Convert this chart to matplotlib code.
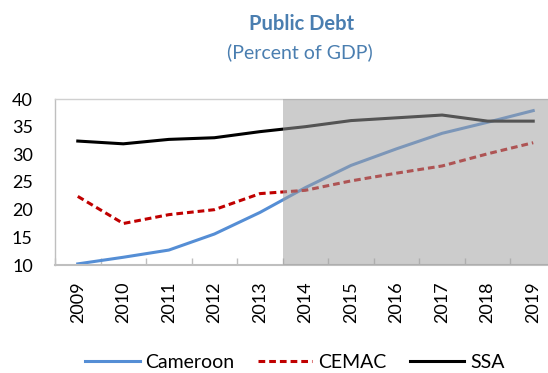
import matplotlib
matplotlib.use("Agg")
import matplotlib.pyplot as plt
from matplotlib.patches import Rectangle

years = ["2009", "2010", "2011", "2012", "2013", "2014", "2015", "2016", "2017", "2018", "2019"]
cameroon = [10.2, 11.4, 12.7, 15.6, 19.5, 24.0, 28.0, 31.0, 33.8, 35.8, 37.9]
cemac = [22.4, 17.5, 19.1, 20.0, 22.9, 23.5, 25.2, 26.6, 27.9, 30.1, 32.1]
ssa = [32.4, 31.9, 32.7, 33.0, 34.1, 35.0, 36.1, 36.6, 37.1, 36.0, 36.0]
projection_start = 4.5

plt.rcParams["font.family"] = ["Lato", "DejaVu Sans"]

W, H = 548, 373
fig = plt.figure(figsize=(W / 100, H / 100), dpi=100)
ax = fig.add_axes([55 / W, 1 - 265 / H, (556 - 55) / W, (265 - 99) / H])

x = list(range(len(years)))
ax.plot(x, cameroon, color="#558ED5", lw=2.2, label="Cameroon", zorder=2)
ax.plot(x, cemac, color="#C00000", lw=2.2, ls=(0, (2.2, 1.3)), label="CEMAC", zorder=2)
ax.plot(x, ssa, color="#000000", lw=2.2, label="SSA", zorder=2)

# shaded projection period drawn over the lines
ax.add_patch(Rectangle((projection_start, 10), len(years) - 0.5 - projection_start, 30,
                       facecolor="#9F9F9F", alpha=0.53, edgecolor="none", zorder=3))

ax.set_xlim(-0.5, len(years) - 0.5)
ax.set_ylim(10, 40)
ax.set_yticks([10, 15, 20, 25, 30, 35, 40])
ax.set_xticks(x)
ax.set_xticklabels(years, rotation=90, fontsize=13)
ax.set_xticks([i + 0.5 for i in range(-1, len(years))], minor=True)
ax.tick_params(axis="x", which="major", length=0, pad=12)
ax.tick_params(axis="x", which="minor", length=5, direction="in", color="#BFBFBF", width=1)
ax.tick_params(axis="y", length=0, labelsize=13, pad=16)
for s in ax.spines.values():
    s.set_color("#D0D0D0")
    s.set_linewidth(1)
ax.spines["bottom"].set_color("#BFBFBF")
ax.spines["bottom"].set_linewidth(1.5)
ax.spines["left"].set_color("#BFBFBF")

fig.text(301.5 / W, 1 - 24 / H, "Public Debt", ha="center", va="center",
         fontsize=14.5, fontweight="bold", color="#4A7EB0")
fig.text(299.5 / W, 1 - 52 / H, "(Percent of GDP)", ha="center", va="center",
         fontsize=14, color="#4A7EB0")

fig.legend(loc="center", bbox_to_anchor=(295 / W, 1 - 362 / H), ncol=3, frameon=False,
           fontsize=14, handlelength=2.8, columnspacing=1.2, handletextpad=0.3)

fig.savefig("out.png", dpi=100)
